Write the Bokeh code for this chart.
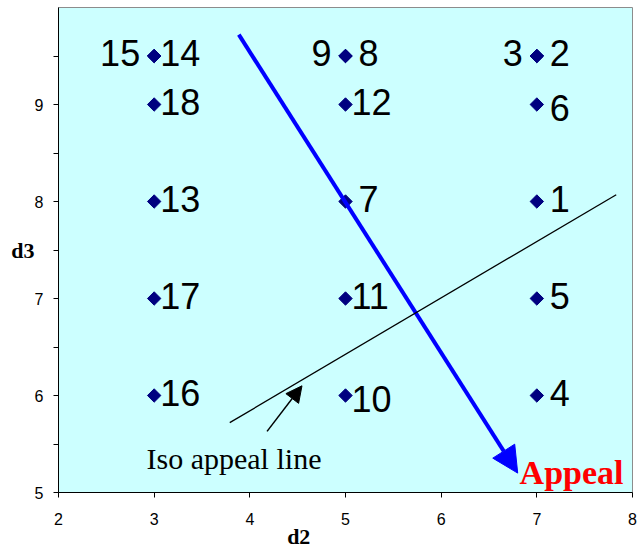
import math
from bokeh.plotting import figure
from bokeh.models import (Range1d, FixedTicker, Arrow, NormalHead, Label,
                          ColumnDataSource)
from bokeh.core.properties import value
from bokeh.embed import file_html
from bokeh.resources import INLINE

# ---- data ----
profiles = [str(i) for i in range(1, 19)]
d2_vals = [7, 7, 7, 7, 7, 7, 5, 5, 5, 5, 5, 5, 3, 3, 3, 3, 3, 3]
d3_vals = [8, 9.5, 9.5, 6, 7, 9, 8, 9.5, 9.5, 6, 7, 9, 8, 9.5, 9.5, 6, 7, 9]
left_side = ["3", "9", "15"]          # labels written to the left of the point
low_labels = ["6", "10"]              # labels sitting slightly lower

x_ticks = [2, 3, 4, 5, 6, 7, 8]
y_ticks = [5, 6, 7, 8, 9]
y_minor = [5.5, 6.5, 7.5, 8.5, 9.5]

# direction ("Appeal") arrow and iso appeal line, in data units
appeal_start = (3.885, 9.72)
appeal_end = (6.80, 5.20)
iso_start = (3.79, 5.72)
iso_end = (7.83, 8.07)
iso_note_tail = (4.18, 5.63)
iso_note_head = (4.545, 6.10)

# ---- figure ----
W, H = 638, 551
p = figure(width=W, height=H, x_range=Range1d(2, 8), y_range=Range1d(5, 10),
           output_backend="svg", toolbar_location=None,
           min_border_left=58, min_border_right=6, min_border_top=7,
           min_border_bottom=59)
p.background_fill_color = "#CCFFFF"
p.border_fill_color = "white"
p.outline_line_color = "#8C8C8C"
p.xgrid.visible = False
p.ygrid.visible = False

p.xaxis.ticker = FixedTicker(ticks=x_ticks)
p.yaxis.ticker = FixedTicker(ticks=y_ticks, minor_ticks=y_minor)
for ax in (p.xaxis, p.yaxis):
    ax.axis_line_color = "black"
    ax.major_tick_line_color = "black"
    ax.major_tick_out = 5
    ax.major_tick_in = 0
    ax.major_label_text_font = "Liberation Sans"
    ax.major_label_text_font_size = "16px"
    ax.major_label_text_color = "black"
    ax.axis_label_text_font = "Liberation Serif"
    ax.axis_label_text_font_size = "22px"
    ax.axis_label_text_font_style = "bold"
    ax.axis_label_text_color = "black"
p.xaxis.minor_tick_line_color = None
p.yaxis.minor_tick_line_color = "black"
p.yaxis.minor_tick_out = 5
p.yaxis.minor_tick_in = 0
p.xaxis.major_label_standoff = 15
p.yaxis.major_label_standoff = 10

# axis titles ("d2" sits left of the axis centre, "d3" is horizontal)
p.xaxis.axis_label = "d2" + "\u00a0" * 17
p.xaxis.axis_label_standoff = -4
p.yaxis.axis_label = "d3"
p.yaxis.axis_label_orientation = "horizontal"
p.yaxis.axis_label_standoff = -3

# ---- points ----
src = ColumnDataSource(dict(x=d2_vals, y=d3_vals))
p.scatter("x", "y", source=src, marker="square", angle=math.pi / 4, size=9.5,
          fill_color="#000080", line_color="#000080")

rx, ry, rt, rxo, ryo = [], [], [], [], []
lx, ly, lt = [], [], []
for lab, xv, yv in zip(profiles, d2_vals, d3_vals):
    if lab in left_side:
        lx.append(xv); ly.append(yv); lt.append(lab)
    else:
        rx.append(xv); ry.append(yv); rt.append(lab)
        rxo.append(6 if len(lab) > 1 else 13)
        ryo.append(3 if lab in low_labels else -3)

p.text(x=rx, y=ry, text=rt, x_offset=rxo, y_offset=ryo,
       text_font=value("Liberation Sans"), text_font_size="36px",
       text_align="left", text_baseline="middle", text_color="black")
p.text(x=lx, y=ly, text=lt, x_offset=-14, y_offset=-3,
       text_font=value("Liberation Sans"), text_font_size="36px",
       text_align="right", text_baseline="middle", text_color="black")

# ---- arrows and lines ----
p.add_layout(Arrow(x_start=appeal_start[0], y_start=appeal_start[1],
                   x_end=appeal_end[0], y_end=appeal_end[1],
                   line_color="#0000FF", line_width=4,
                   end=NormalHead(size=26, fill_color="#0000FF",
                                  line_color="#0000FF", line_width=1)))
p.add_layout(Arrow(x_start=iso_start[0], y_start=iso_start[1],
                   x_end=iso_end[0], y_end=iso_end[1],
                   line_color="black", line_width=1.3, end=None))
p.add_layout(Arrow(x_start=iso_note_tail[0], y_start=iso_note_tail[1],
                   x_end=iso_note_head[0], y_end=iso_note_head[1],
                   line_color="black", line_width=1.5,
                   end=NormalHead(size=16, fill_color="black",
                                  line_color="black", line_width=1)))

p.add_layout(Label(x=2.92, y=5.35, text="Iso appeal line",
                   text_font="Liberation Serif", text_font_size="30px",
                   text_color="black", text_baseline="alphabetic"))
p.add_layout(Label(x=6.82, y=5.21, text="Appeal",
                   text_font="Liberation Serif", text_font_size="34px",
                   text_font_style="bold", text_color="#FF0000",
                   text_baseline="alphabetic"))

open("out.html", "w").write(file_html(p, INLINE))
